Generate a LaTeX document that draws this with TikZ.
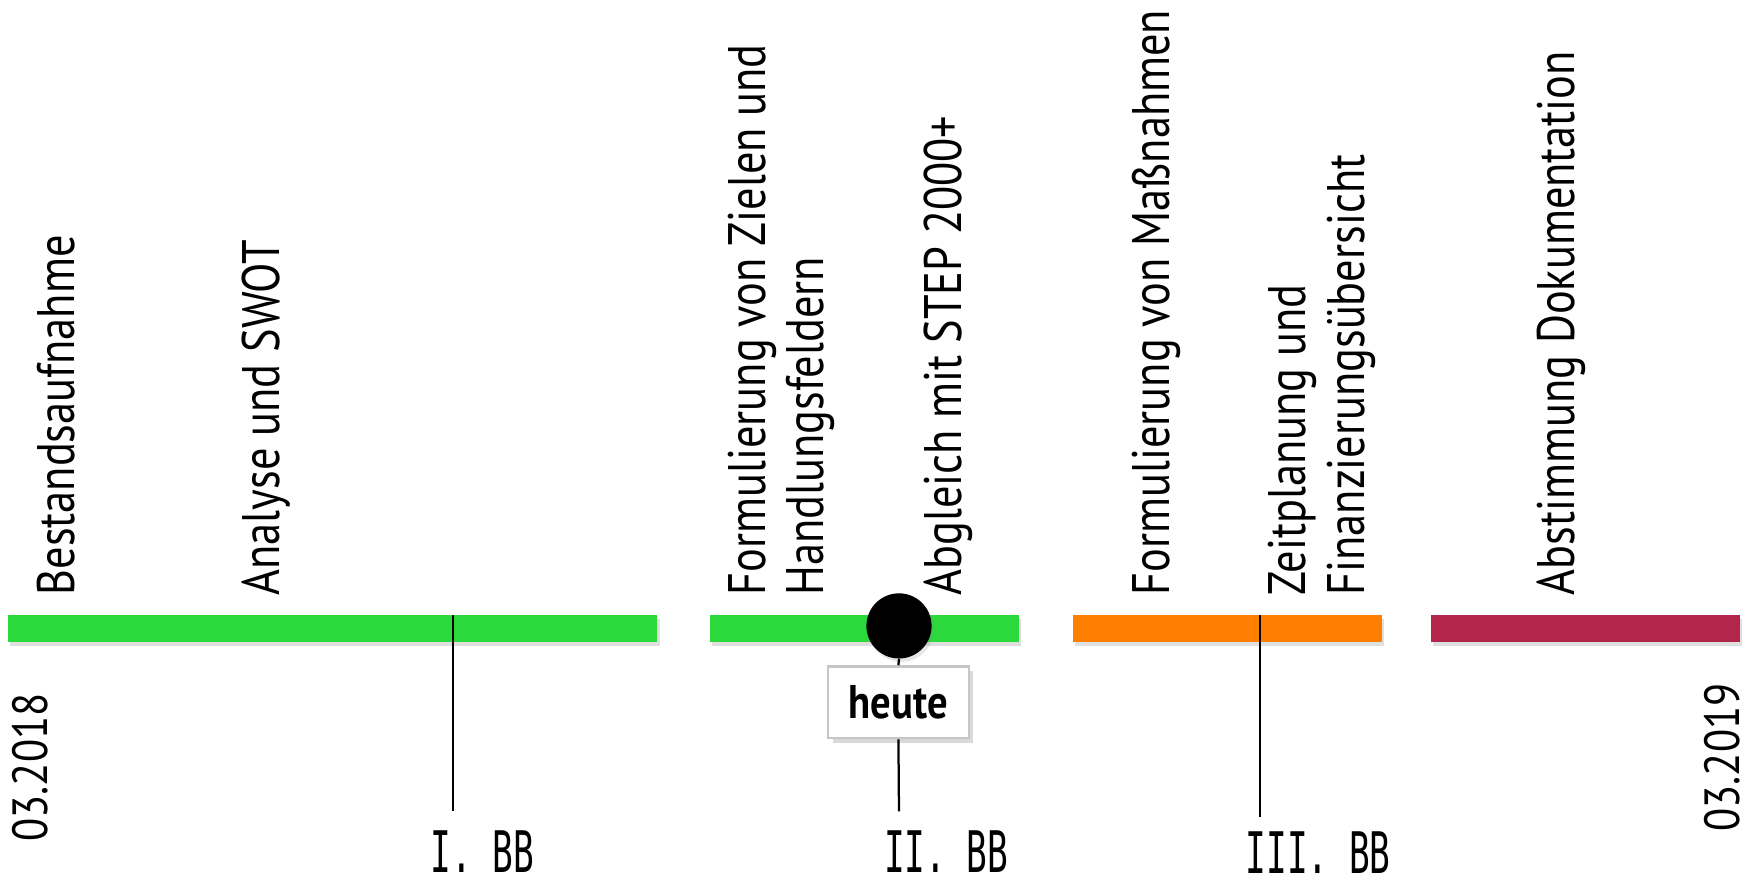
\documentclass[tikz,border=0pt]{standalone}
\usepackage{fontspec}
\setmainfont{PT Sans}[FakeStretch=0.84]
\newfontfamily\datefont{PT Sans}[FakeStretch=0.86]
\newfontfamily\bbfont{DejaVu Sans Mono}[FakeStretch=0.6]
\newfontfamily\heutefont{PT Sans}[FakeStretch=0.86]
\usetikzlibrary{shadows}
\definecolor{barGreen}{HTML}{2CD93C}
\definecolor{barOrange}{HTML}{FF7F00}
\definecolor{barRed}{HTML}{B3254A}
\begin{document}
\begin{tikzpicture}[x=1pt,y=-1pt,
  barnode/.style={fill=#1, draw=none, inner sep=0pt, minimum height=24pt,
    drop shadow={opacity=0.25, shadow xshift=2pt, shadow yshift=-4pt}},
  phase/.style={rotate=90, anchor=base west, inner sep=0pt, font=\fontsize{47}{52}\selectfont, align=left},
  datelabel/.style={rotate=90, anchor=base, inner sep=0pt, font=\datefont\fontsize{44}{52}\selectfont},
  bblabel/.style={anchor=base, inner sep=0pt, font=\bbfont\fontsize{51}{60}\selectfont},
  tick/.style={line width=2pt, black}
]
\useasboundingbox (0,0) rectangle (1568,786.67);
% bars
\node[barnode=barGreen, minimum width=578pt] (bar1) at (296,559) {};
\node[barnode=barGreen, minimum width=275pt] (bar2) at (769.5,559) {};
\node[barnode=barOrange, minimum width=275pt] (bar3) at (1092.5,559) {};
\node[barnode=barRed, minimum width=275pt] (bar4) at (1410.5,559) {};
% phase labels
\node[phase] (t1) at (66,530) {Bestandsaufnahme};
\node[phase] (t2) at (249,530) {Analyse und SWOT};
\node[phase] (t3) at (733,530) {Formulierung von Zielen und\\Handlungsfeldern};
\node[phase] (t4) at (856,530) {Abgleich mit STEP 2000+};
\node[phase] (t5) at (1041,530) {Formulierung von Maßnahmen};
\node[phase] (t6) at (1214,530) {Zeitplanung und\\Finanzierungsübersicht};
\node[phase] (t7) at (1401,530) {Abstimmung Dokumentation};
% dates
\node[datelabel] (d1) at (42,683) {03.2018};
\node[datelabel] (d2) at (1548,674) {03.2019};
% ticks
\coordinate (i1top) at (403,547);
\coordinate (i1bot) at (403,722);
\draw[tick] (i1top) -- (i1bot);
\coordinate (i3top) at (1121,547);
\coordinate (i3bot) at (1121,727);
\draw[tick] (i3top) -- (i3bot);
\coordinate (i2bot) at (800,722);
\node[circle, fill=black, minimum size=58pt, inner sep=0pt,
  drop shadow={opacity=0.2, shadow xshift=2pt, shadow yshift=-3pt}] (now) at (800,557) {};
\node[draw=gray!45, line width=2pt, fill=white, minimum width=125pt, minimum height=64pt, inner sep=0pt,
  font=\heutefont\bfseries\fontsize{42}{48}\selectfont,
  drop shadow={opacity=0.3, shadow xshift=4pt, shadow yshift=-4pt}] (heute) at (799.5,625) {heute};
\draw[tick] (now.south) -- (heute.north);
\draw[tick] (heute.south) -- (i2bot);
% BB labels
\node[bblabel] (bb1) at (429,776) {I. BB};
\node[bblabel] (bb2) at (842,776) {II. BB};
\node[bblabel] (bb3) at (1173,777) {III. BB};
\end{tikzpicture}
\end{document}
